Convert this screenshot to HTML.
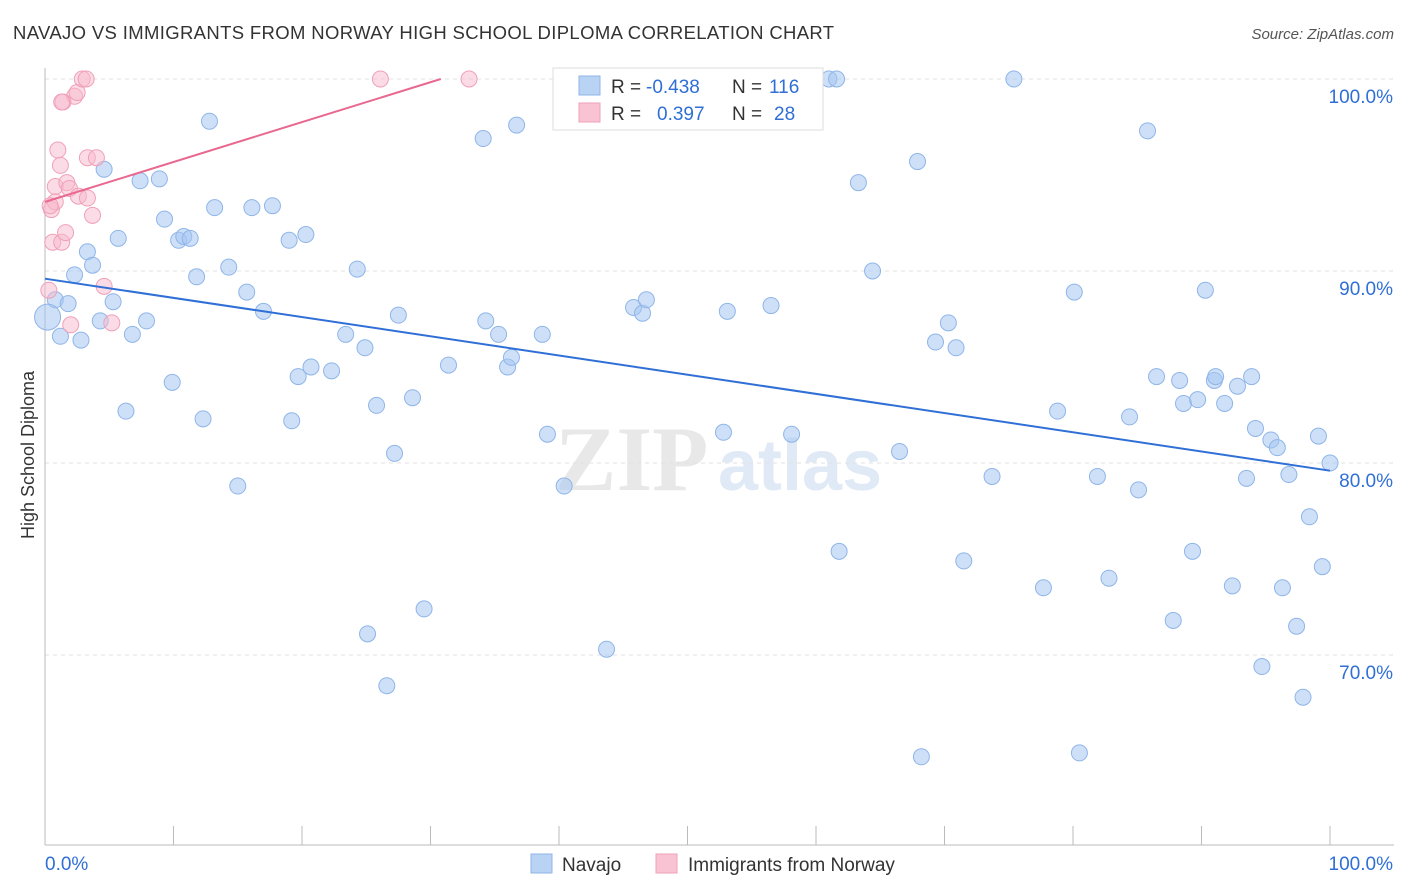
<!DOCTYPE html>
<html><head><meta charset="utf-8"><style>
body{margin:0;background:#fff;font-family:"Liberation Sans",sans-serif;}
svg{display:block}
</style></head><body>
<svg width="1406" height="892" id="chart">
<text x="13" y="39" font-size="18.5" fill="#333" letter-spacing="0.35">NAVAJO VS IMMIGRANTS FROM NORWAY HIGH SCHOOL DIPLOMA CORRELATION CHART</text>
<text x="1394" y="39" font-size="15" fill="#555" text-anchor="end" font-style="italic">Source: ZipAtlas.com</text>
<text x="34" y="455" font-size="18" fill="#333" text-anchor="middle" transform="rotate(-90 34 455)">High School Diploma</text>
<g><text x="555" y="490" font-size="92" fill="#e8e8e8" font-family="Liberation Serif,serif" font-weight="bold">ZIP</text><text x="718" y="490" font-size="72" fill="#e0e9f6" font-weight="bold">atlas</text></g>
<g id="grid"></g><g id="axes"></g><g id="pts"></g><g id="trend"></g>
<g font-size="19" fill="#333">
<rect x="553" y="68" width="270" height="62" fill="#fff" stroke="#ddd"/>
<rect x="579" y="76" width="21" height="19" fill="#b9d3f5" stroke="#8fb5e8"/>
<rect x="579" y="103" width="21" height="19" fill="#f9c3d3" stroke="#f0a0b8"/>
<text x="611" y="93">R =</text><text x="646" y="93" fill="#2f6fd6">-0.438</text><text x="732" y="93">N =</text><text x="769" y="93" fill="#2f6fd6">116</text>
<text x="611" y="120">R =</text><text x="657" y="120" fill="#2f6fd6">0.397</text><text x="732" y="120">N =</text><text x="774" y="120" fill="#2f6fd6">28</text>
</g>
<g>
<rect x="531" y="854" width="21" height="19" fill="#b9d3f5" stroke="#8fb5e8"/>
<text x="562" y="871" font-size="19" fill="#333">Navajo</text>
<rect x="656" y="854" width="21" height="19" fill="#f9c3d3" stroke="#f0a0b8"/>
<text x="688" y="871" font-size="19" fill="#333">Immigrants from Norway</text>
</g>
</svg>
<script>
const blueX=[0.8,1.8,1.2,2.8,2.3,3.3,3.7,4.6,4.3,5.3,5.7,6.3,6.8,7.4,7.9,8.9,9.3,9.9,10.4,10.8,11.3,11.8,12.3,12.8,13.2,14.3,15.0,15.7,16.1,17.0,17.7,19.0,19.2,19.7,20.3,20.7,22.3,23.4,24.3,24.9,25.1,25.8,26.6,27.2,27.5,28.6,29.5,31.4,34.1,34.3,35.3,36.0,36.3,36.7,38.7,39.1,40.4,43.7,45.8,46.5,46.8,52.4,52.8,53.1,56.5,58.1,61.0,61.6,61.8,63.3,64.4,66.5,67.9,68.2,69.3,70.3,70.9,71.5,73.7,75.4,77.7,78.8,80.1,80.5,81.9,82.8,84.4,85.1,85.8,86.5,87.8,88.3,88.6,89.3,89.7,90.3,91.0,91.1,91.8,92.4,92.8,93.5,93.9,94.2,94.7,95.4,95.9,96.3,96.8,97.4,97.9,98.4,99.1,99.4,100,0.2];
const blueY=[88.5,88.3,86.6,86.4,89.8,91.0,90.3,95.3,87.4,88.4,91.7,82.7,86.7,94.7,87.4,94.8,92.7,84.2,91.6,91.8,91.7,89.7,82.3,97.8,93.3,90.2,78.8,88.9,93.3,87.9,93.4,91.6,82.2,84.5,91.9,85.0,84.8,86.7,90.1,86.0,71.1,83.0,68.4,80.5,87.7,83.4,72.4,85.1,96.9,87.4,86.7,85.0,85.5,97.6,86.7,81.5,78.8,70.3,88.1,87.8,88.5,100,81.6,87.9,88.2,81.5,100,100,75.4,94.6,90.0,80.6,95.7,64.7,86.3,87.3,86.0,74.9,79.3,100,73.5,82.7,88.9,64.9,79.3,74.0,82.4,78.6,97.3,84.5,71.8,84.3,83.1,75.4,83.3,89.0,84.3,84.5,83.1,73.6,84.0,79.2,84.5,81.8,69.4,81.2,80.8,73.5,79.4,71.5,67.8,77.2,81.4,74.6,80.0,87.6];
const pinkX=[0.3,0.5,0.6,0.8,0.8,1.0,1.2,1.3,1.6,1.7,1.9,2.0,2.3,2.6,2.5,2.9,3.2,3.3,3.3,3.7,4.0,4.6,5.2,26.1,33.0,1.4,0.4,1.3];
const pinkY=[89.0,93.2,91.5,94.4,93.6,96.3,95.5,91.5,92.0,94.6,94.3,87.2,99.1,93.9,99.3,100,100,95.9,93.8,92.9,95.9,89.2,87.3,100,100,98.8,93.4,98.8];
const blueTrend=[89.6,79.6]; // y at x=0 and x=100
const pinkTrend=[93.6,100,30.8]; // y0, yEnd, xEnd
const yTicks=[100,90,80,70];
const xTickLabels=["0.0%","100.0%"];
const NS="http://www.w3.org/2000/svg";
const sx=v=>45+v*12.85, sy=v=>79+(100-v)*19.2;
function mk(tag,attrs,parent){const e=document.createElementNS(NS,tag);for(const k in attrs)e.setAttribute(k,attrs[k]);parent.appendChild(e);return e;}
const grid=document.getElementById('grid'),axes=document.getElementById('axes'),pts=document.getElementById('pts'),trend=document.getElementById('trend');
yTicks.forEach(t=>{
 const l=mk('line',{x1:45,x2:1394,y1:sy(t),y2:sy(t),stroke:'#e2e2e2','stroke-dasharray':'4,4'},grid);
 
 
 const tx=mk('text',{x:1393,y:sy(t)+24,'font-size':19,fill:'#2f6fd6','text-anchor':'end'},axes);
 tx.textContent=t.toFixed(1)+'%';
 
 
});
const ax=mk('line',{x1:45,x2:45,y1:68,y2:845,stroke:'#bbb'},axes);


const bx=mk('line',{x1:45,x2:1394,y1:845,y2:845,stroke:'#bbb'},axes);


for(let i=0;i<=10;i++){const t=mk('line',{x1:sx(i*10),x2:sx(i*10),y1:826,y2:845,stroke:'#bbb'},axes);
 
 }
[[0,'start'],[100,'end']].forEach((p,i)=>{const t=mk('text',{x:sx(p[0])+(i?63:0),y:870,'font-size':19,fill:'#2f6fd6','text-anchor':i?'end':'start'},axes);t.textContent=xTickLabels[i];
 
 });
blueX.forEach((x,i)=>{const c=mk('circle',{cx:sx(x),cy:sy(blueY[i]),r:i===blueX.length-1?13:8,fill:'rgba(165,198,242,0.55)',stroke:'#8fb5e8','stroke-width':1},pts);
 
 });
pinkX.forEach((x,i)=>{const c=mk('circle',{cx:sx(x),cy:sy(pinkY[i]),r:8,fill:'rgba(248,185,205,0.5)',stroke:'#f0a0b8','stroke-width':1},pts);
 
 });
const bl=mk('line',{x1:sx(0),y1:sy(blueTrend[0]),x2:sx(100),y2:sy(blueTrend[1]),stroke:'#2f6fd6','stroke-width':2},trend);


const pl=mk('line',{x1:sx(0),y1:sy(pinkTrend[0]),x2:sx(pinkTrend[2]),y2:sy(pinkTrend[1]),stroke:'#e8688f','stroke-width':2},trend);


</script>
</body></html>
